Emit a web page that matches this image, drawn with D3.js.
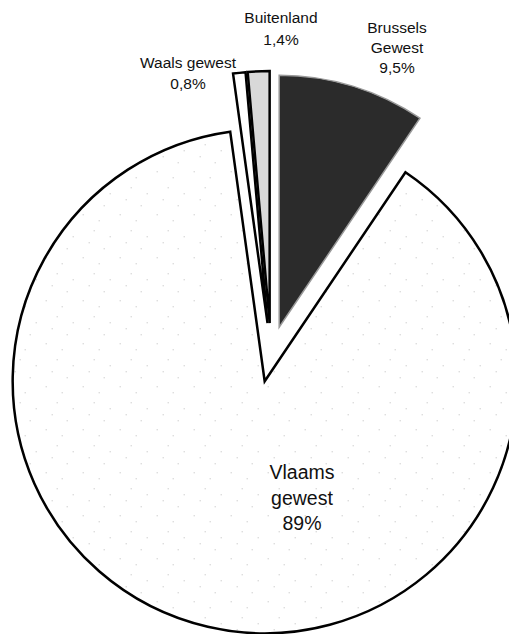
<!DOCTYPE html>
<html>
<head>
<script src="https://cdn.jsdelivr.net/npm/d3@7"></script>
<style>
  body { margin: 0; background: #fff; }
  text { font-family: "Liberation Sans", Arial, sans-serif; fill: #111; }
</style>
</head>
<body>
<svg id="chart" width="509" height="634"></svg>
<script>
// data (percentages as printed on the chart)
var regions = ["Brussels Gewest", "Vlaams gewest", "Waals gewest", "Buitenland"];
var shares = [9.5, 89, 0.8, 1.4];
var labels = [["Brussels", "Gewest", "9,5%"], ["Vlaams", "gewest", "89%"], ["Waals gewest", "0,8%"], ["Buitenland", "1,4%"]];
var fills = ["#2b2b2b", "url(#speckle)", "#ffffff", "#d9d9d9"];

var svg = d3.select("#chart");
var cx = 271, cy = 354, r = 252, explode = 28;

// speckled paper texture for the big slice
var pat = svg.append("defs").append("pattern")
    .attr("id", "speckle").attr("patternUnits", "userSpaceOnUse")
    .attr("width", 37).attr("height", 43);
pat.append("rect").attr("width", 37).attr("height", 43).attr("fill", "#fff");
[[3, 5], [19, 11], [30, 27], [9, 33], [24, 39], [14, 21]].forEach(function (p) {
    pat.append("rect").attr("x", p[0]).attr("y", p[1]).attr("width", 1).attr("height", 1).attr("fill", "#bbb");
});

var pie = d3.pie().sort(null).value(function (d) { return d; });
var arc = d3.arc().innerRadius(0).outerRadius(r);
var arcs = pie(shares);

var g = svg.append("g").attr("transform", "translate(" + cx + "," + cy + ")");
g.selectAll("path").data(arcs).enter().append("path")
    .attr("d", arc)
    .attr("transform", function (d, i) {
        var m = (d.startAngle + d.endAngle) / 2;
        var e = i >= 2 ? explode + 3 : explode;
        return "translate(" + (e * Math.sin(m)) + "," + (-e * Math.cos(m)) + ")";
    })
    .attr("fill", function (d, i) { return fills[i]; })
    .attr("stroke", function (d, i) { return i == 0 ? "#9a9a9a" : "#000"; })
    .attr("stroke-width", function (d, i) { return i == 0 ? 1.5 : 2.5; })
    .attr("stroke-linejoin", "miter");

// labels
var labelPos = [
    { x: 397, y: 33, size: 15.5, gap: 20 },
    { x: 302, y: 479, size: 19.5, gap: 25.5 },
    { x: 188, y: 68, size: 15.5, gap: 21 },
    { x: 281, y: 23, size: 15.5, gap: 22 }
];
labels.forEach(function (lines, i) {
    var p = labelPos[i];
    var t = svg.append("text")
        .attr("text-anchor", "middle")
        .attr("font-size", p.size);
    lines.forEach(function (s, j) {
        t.append("tspan").attr("x", p.x).attr("y", p.y + j * p.gap).text(s);
    });
});
</script>
</body>
</html>
